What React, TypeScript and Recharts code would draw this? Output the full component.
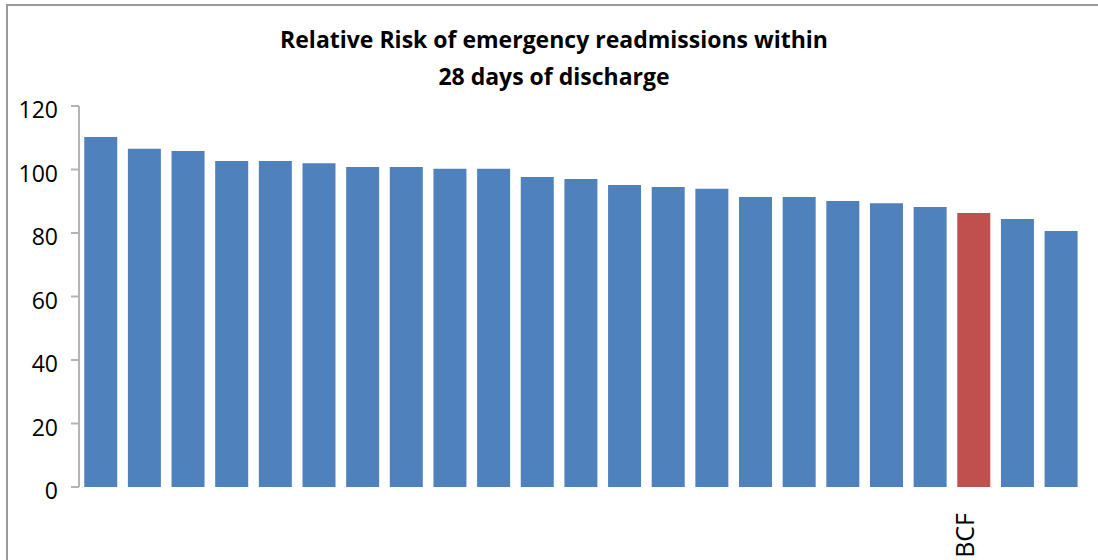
import React from 'react';
import { BarChart, Bar, XAxis, YAxis, Cell } from 'recharts';

// one bar per provider, only the highlighted trust gets a label
const providerLabels = [
  '', '', '', '', '', '', '', '', '', '', '', '',
  '', '', '', '', '', '', '', '', 'BCF', '', '',
];
const relativeRisk = [
  110.2, 106.5, 105.8, 102.7, 102.7, 102.0, 100.8, 100.8, 100.2, 100.2, 97.6, 97.0,
  95.1, 94.5, 93.9, 91.3, 91.3, 90.1, 89.4, 88.2, 86.3, 84.4, 80.6,
];
const yTicks = [0, 20, 40, 60, 80, 100, 120];
const highlighted = 'BCF';

const chartTitle = ['Relative Risk of emergency readmissions within', '28 days of discharge'];

const data = providerLabels.map((name, i) => ({ name, value: relativeRisk[i] }));

const font = '"Open Sans", sans-serif';

const ProviderTick = (props: any) => {
  const { x, y, payload } = props;
  if (!payload.value) return null;
  return (
    <g transform={`translate(${x},${y})`}>
      <text
        transform="rotate(-90)"
        x={0}
        y={0}
        textAnchor="end"
        fontSize={25}
        fontFamily={font}
        fill="#000"
      >
        {payload.value}
      </text>
    </g>
  );
};

const App = () => {
  return (
    <div style={{ position: 'absolute', left: 0, top: 0, width: 1098, height: 560, background: '#fff', overflow: 'hidden' }}>
      <div
        style={{
          position: 'absolute',
          left: 6,
          top: 4,
          width: 1200,
          height: 700,
          borderTop: '2px solid #9a9a9a',
          borderLeft: '2px solid #9a9a9a',
        }}
      />
      <div
        style={{
          position: 'absolute',
          left: 204,
          top: 21,
          width: 700,
          textAlign: 'center',
          fontFamily: font,
          fontWeight: 700,
          fontSize: 23,
          lineHeight: '37px',
          color: '#000',
        }}
      >
        {chartTitle.map((line) => (
          <div key={line}>{line}</div>
        ))}
      </div>
      <div style={{ position: 'absolute', left: 0, top: 0 }}>
        <BarChart
          width={1098}
          height={560}
          data={data}
          margin={{ top: 106, right: 15, bottom: 0, left: 0 }}
          barCategoryGap="12%"
        >
          <YAxis
            domain={[0, 120]}
            ticks={yTicks}
            width={79}
            axisLine={{ stroke: '#b4b4b4', strokeWidth: 2 }}
            tickLine={{ stroke: '#b4b4b4', strokeWidth: 2 }}
            tickSize={8}
            tickMargin={13}
            tick={{ fill: '#000', fontSize: 23, fontFamily: font, dy: 4 }}
          />
          <XAxis
            dataKey="name"
            height={73}
            axisLine={false}
            tickLine={false}
            tickSize={0}
            tickMargin={26}
            interval={0}
            tick={<ProviderTick />}
          />
          <Bar dataKey="value" isAnimationActive={false}>
            {data.map((d, i) => (
              <Cell key={i} fill={d.name === highlighted ? '#c0504d' : '#4f81bd'} />
            ))}
          </Bar>
        </BarChart>
      </div>
    </div>
  );
};

export default App;
